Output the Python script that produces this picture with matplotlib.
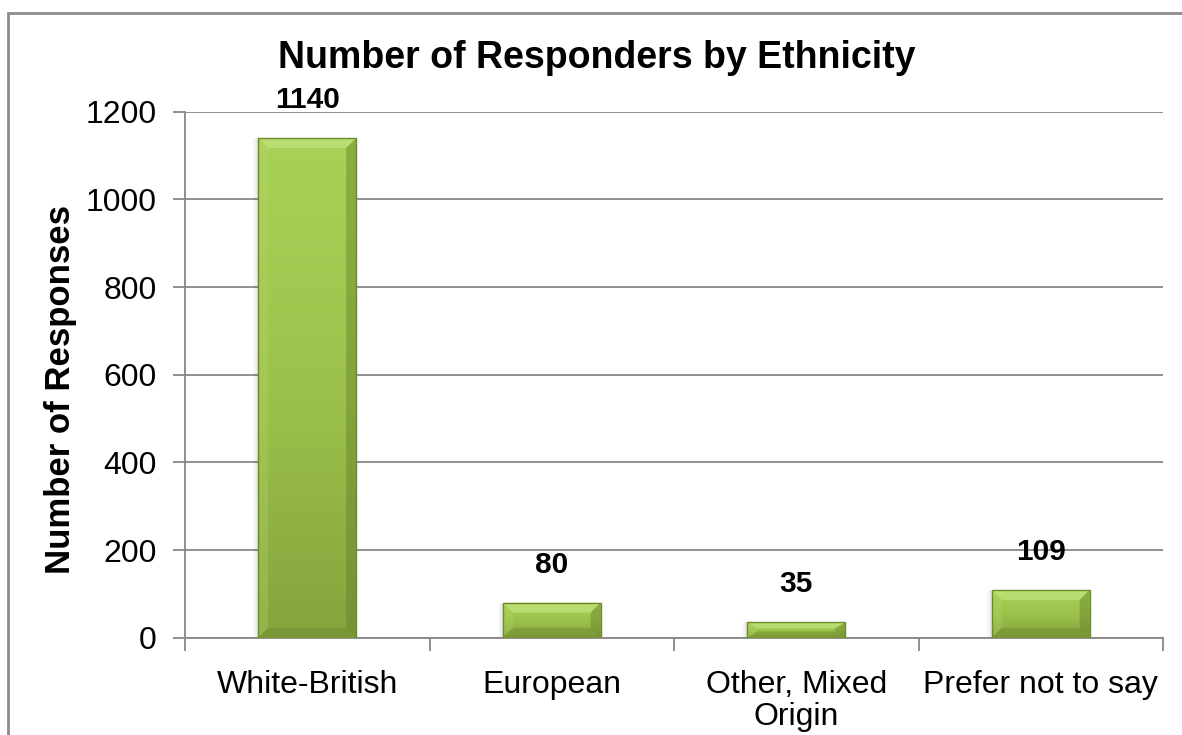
import numpy as np
import matplotlib
matplotlib.use("Agg")
import matplotlib.pyplot as plt
from matplotlib.patches import Rectangle, Polygon
from matplotlib.colors import LinearSegmentedColormap

# Survey data
categories = ["White-British", "European", "Other, Mixed\nOrigin", "Prefer not to say"]
responses = [1140, 80, 35, 109]
y_ticks = [0, 200, 400, 600, 800, 1000, 1200]

plt.rcParams["font.family"] = ["Liberation Sans", "DejaVu Sans"]

W, H = 1182, 735
fig = plt.figure(figsize=(W / 100, H / 100), dpi=100)

# Outer chart-area frame
frame = Rectangle((7.5 / W, -0.1), 1.2, 1 - 12.5 / H + 0.1, transform=fig.transFigure,
                  fill=False, edgecolor="#8c8c8c", linewidth=2, zorder=0)
fig.patches.append(frame)

ax = fig.add_axes([185 / W, 1 - 637.7 / H, (1163 - 185) / W, (637.7 - 111.7) / H])
ax.set_facecolor("none")

x = np.arange(len(categories))
ax.set_xlim(-0.5, len(categories) - 0.5)
ax.set_ylim(0, 1200)

grid_col = "#878787"
ax.set_yticks(y_ticks)
ax.yaxis.grid(True, color=grid_col, linewidth=1.3, zorder=0)
ax.set_axisbelow(True)
ax.tick_params(axis="y", which="major", length=9, width=1.3, color=grid_col,
               labelsize=23, pad=11.5)
ax.set_xticks(x)
ax.set_xticklabels(categories, fontsize=23, linespacing=1.1)
ax.set_xticks(np.arange(len(categories) + 1) - 0.5, minor=True)
ax.tick_params(axis="x", which="major", length=0, pad=23)
ax.tick_params(axis="x", which="minor", length=9, width=1.3, color=grid_col)
for side in ("top", "right"):
    ax.spines[side].set_visible(False)
for side in ("left", "bottom"):
    ax.spines[side].set_color(grid_col)
    ax.spines[side].set_linewidth(1.3)

bars = ax.bar(x, responses, width=0.4, color="none", edgecolor="none", zorder=3)

# Pixel -> data scale for bevel and shadow sizes
p0 = ax.transData.transform((0, 0))
p1 = ax.transData.transform((1, 100))
px_x = 1.0 / (p1[0] - p0[0])
px_y = 100.0 / (p1[1] - p0[1])

grad = LinearSegmentedColormap.from_list("barg", ["#85a43d", "#9cc24b", "#a9d157"])
gimg = np.linspace(0, 1, 256).reshape(-1, 1)

for b, v in zip(bars, responses):
    x0, w, h = b.get_x(), b.get_width(), b.get_height()
    x1 = x0 + w
    # soft shadow to the left
    for k, a in zip(range(1, 6), [0.10, 0.08, 0.06, 0.04, 0.02]):
        ax.add_patch(Rectangle((x0 - k * px_x, 0), px_x, h, facecolor="#000000",
                               alpha=a, edgecolor="none", zorder=2))
    im = ax.imshow(gimg, cmap=grad, aspect="auto", origin="lower",
                   extent=(x0, x1, 0, h), zorder=3, interpolation="bilinear")
    im.set_clip_path(b)
    bx = 10 * px_x
    by = min(10 * px_y, h / 2.5)
    # bevel faces
    ax.add_patch(Polygon([(x0, h), (x1, h), (x1 - bx, h - by), (x0 + bx, h - by)],
                         closed=True, facecolor="#c2e47e", alpha=0.7, edgecolor="none", zorder=4))
    ax.add_patch(Polygon([(x1, h), (x1, 0), (x1 - bx, by), (x1 - bx, h - by)],
                         closed=True, facecolor="#5e7a24", alpha=0.4, edgecolor="none", zorder=4))
    ax.add_patch(Polygon([(x0, h), (x0, 0), (x0 + bx, by), (x0 + bx, h - by)],
                         closed=True, facecolor="#b4d86a", alpha=0.3, edgecolor="none", zorder=4))
    ax.add_patch(Polygon([(x0, 0), (x1, 0), (x1 - bx, by), (x0 + bx, by)],
                         closed=True, facecolor="#5e7a24", alpha=0.3, edgecolor="none", zorder=4))
    ax.add_patch(Rectangle((x0, 0), w, h, fill=False, edgecolor="#6b8a2c",
                           linewidth=1.0, zorder=5))
    ax.annotate(f"{v}", (b.get_x() + w / 2, h), xytext=(0, 21.5), textcoords="offset points",
                ha="center", va="baseline", fontsize=21.5, fontweight="bold", zorder=6,
                annotation_clip=False)

fig.text(597 / W, 1 - 68 / H, "Number of Responders by Ethnicity", ha="center",
         va="baseline", fontsize=27, fontweight="bold")
fig.text(61 / W, 1 - 390 / H, "Number of Responses", rotation=90, ha="center",
         va="center", fontsize=25, fontweight="bold")

fig.savefig("out.png", dpi=100)
